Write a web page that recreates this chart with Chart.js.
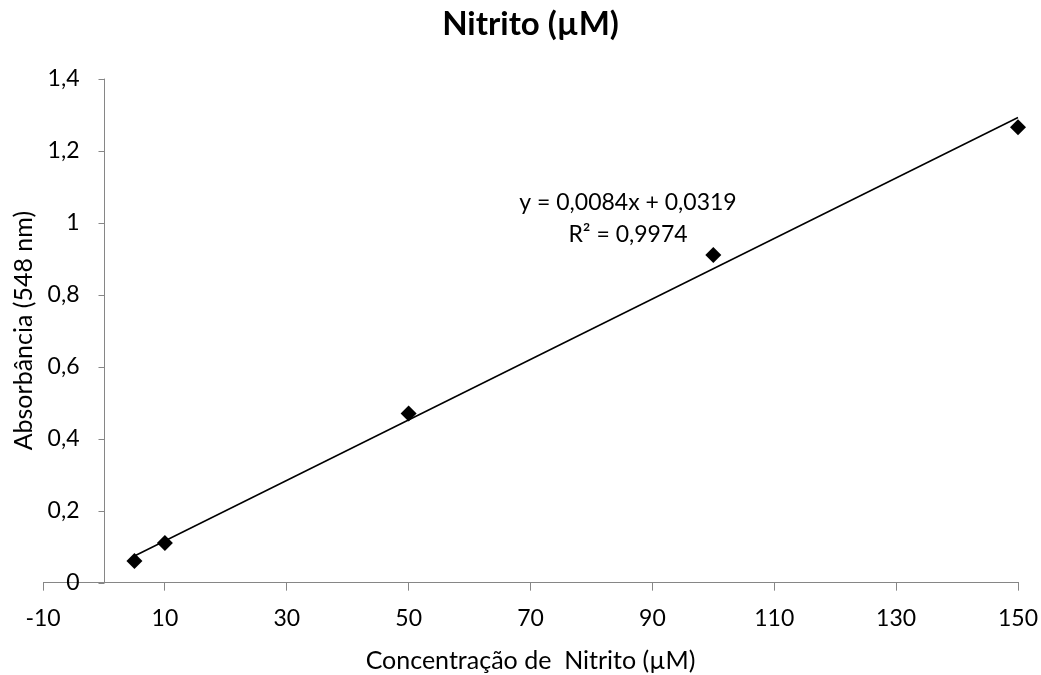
<!DOCTYPE html>
<html lang="pt">
<head>
<meta charset="utf-8">
<title>Nitrito (µM)</title>
<script src="https://cdn.jsdelivr.net/npm/chart.js@4/dist/chart.umd.min.js"></script>
<style>
  html, body { margin: 0; padding: 0; background: #fff; }
  #wrap { width: 1041px; height: 675px; position: relative; }
</style>
</head>
<body>
<div id="wrap"><canvas id="grafico"></canvas></div>
<script>
// valores
const concentracao = [5, 10, 50, 100, 150];
const absorbancia = [0.06, 0.11, 0.47, 0.91, 1.265];
// extremos da linha de tendência
const tendenciaX = [5, 150];
const tendenciaY = [0.074, 1.292];
const equacao = ['y = 0,0084x + 0,0319', 'R² = 0,9974'];

const FONTE = 'Lato, "Open Sans", sans-serif';
const COR_EIXO = '#868686';
const fmt = v => String(Math.round(v * 10) / 10).replace('.', ',');

// eixo Y desenhado em x = 0 (como no Excel)
const eixoY = {
  id: 'eixoY',
  afterDraw(chart, args, opts) {
    const { ctx, chartArea } = chart;
    const x = chart.scales.x, y = chart.scales.y;
    const x0 = Math.round(x.getPixelForValue(0)) + 0.5;
    ctx.save();
    ctx.strokeStyle = COR_EIXO;
    ctx.lineWidth = 1;
    ctx.beginPath();
    ctx.moveTo(x0, y.getPixelForValue(y.min));
    ctx.lineTo(x0, y.getPixelForValue(y.max));
    y.ticks.forEach(t => {
      const py = Math.round(y.getPixelForValue(t.value)) + 0.5;
      ctx.moveTo(x0 - opts.tickLength, py);
      ctx.lineTo(x0, py);
    });
    ctx.stroke();

    ctx.fillStyle = '#000';
    ctx.font = opts.fontSize + 'px ' + FONTE;
    ctx.textAlign = 'right';
    ctx.textBaseline = 'middle';
    y.ticks.forEach(t => ctx.fillText(fmt(t.value), x0 - opts.labelGap, y.getPixelForValue(t.value)));

    ctx.translate(opts.titleX, (chartArea.top + chartArea.bottom) / 2);
    ctx.rotate(-Math.PI / 2);
    ctx.textAlign = 'center';
    ctx.font = opts.titleSize + 'px ' + FONTE;
    ctx.fillText(opts.title, 0, 0);
    ctx.restore();
  }
};

// rótulo da equação da tendência
const rotuloEquacao = {
  id: 'rotuloEquacao',
  afterDraw(chart, args, opts) {
    const { ctx } = chart;
    const px = chart.scales.x.getPixelForValue(opts.x);
    const py = chart.scales.y.getPixelForValue(opts.y);
    ctx.save();
    ctx.fillStyle = '#000';
    ctx.font = opts.fontSize + 'px ' + FONTE;
    ctx.textAlign = 'center';
    ctx.textBaseline = 'middle';
    equacao.forEach((linha, i) => ctx.fillText(linha, px, py + i * opts.lineGap));
    ctx.restore();
  }
};

new Chart(document.getElementById('grafico'), {
  type: 'scatter',
  data: {
    datasets: [
      {
        label: 'Absorbância',
        data: concentracao.map((c, i) => ({ x: c, y: absorbancia[i] })),
        pointStyle: 'rectRot',
        pointRadius: 8,
        pointHoverRadius: 8,
        backgroundColor: '#000',
        borderColor: '#000',
        borderWidth: 0,
        clip: false,
      },
      {
        label: 'Linear',
        data: tendenciaX.map((c, i) => ({ x: c, y: tendenciaY[i] })),
        showLine: true,
        pointRadius: 0,
        borderColor: '#000',
        borderWidth: 1.5,
        clip: false,
      },
    ],
  },
  options: {
    responsive: true,
    maintainAspectRatio: false,
    animation: false,
    layout: { autoPadding: false, padding: { left: 43, right: 23, top: 0, bottom: 0 } },
    plugins: {
      legend: { display: false },
      tooltip: { enabled: false },
      title: {
        display: true,
        text: 'Nitrito (µM)',
        color: '#000',
        font: { family: FONTE, size: 33, weight: 'bold' },
        padding: { top: 5, bottom: 34 },
      },
      eixoY: { tickLength: 6, labelGap: 25, fontSize: 23, titleX: 24, titleSize: 25, title: 'Absorbância (548 nm)' },
      rotuloEquacao: { x: 86, y: 1.055, fontSize: 23, lineGap: 32 },
    },
    scales: {
      x: {
        type: 'linear',
        position: 'bottom',
        min: -10,
        max: 150,
        // os rótulos das pontas cabem na margem; não reservar espaço extra
        afterFit(scale) {
          scale.paddingLeft = 0;
          scale.paddingRight = 0;
        },
        ticks: {
          stepSize: 20,
          color: '#000',
          padding: 14,
          font: { family: FONTE, size: 23 },
        },
        grid: { drawOnChartArea: false, drawTicks: true, tickLength: 8, color: COR_EIXO },
        border: { color: COR_EIXO, width: 1 },
        title: {
          display: true,
          text: 'Concentração de  Nitrito (µM)',
          color: '#000',
          font: { family: FONTE, size: 25, lineHeight: 1.15 },
          padding: { top: 0, bottom: 0 },
        },
      },
      y: {
        type: 'linear',
        display: false,
        min: 0,
        max: 1.4,
        ticks: { stepSize: 0.2 },
      },
    },
  },
  plugins: [eixoY, rotuloEquacao],
});
</script>
</body>
</html>
